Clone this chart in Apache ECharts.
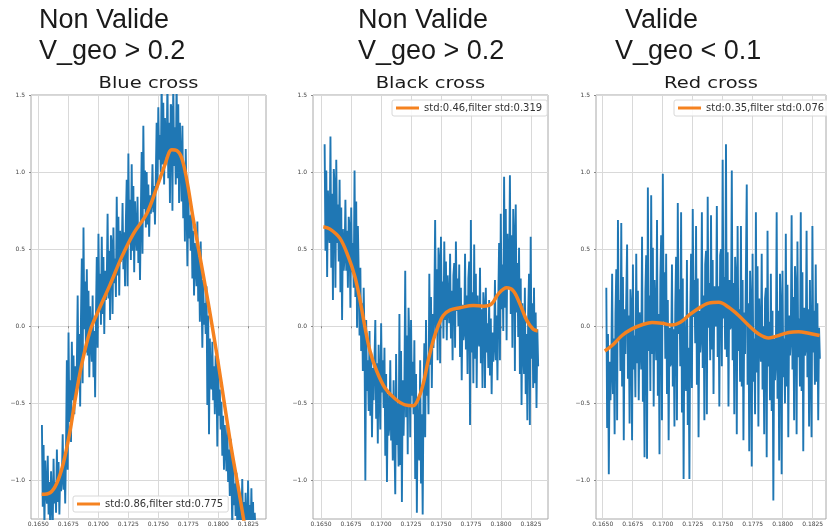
<!DOCTYPE html>
<html><head><meta charset="utf-8">
<script src="https://cdn.jsdelivr.net/npm/echarts@6/dist/echarts.min.js"></script>
<style>html,body{margin:0;padding:0;background:#fff}#c{width:827px;height:530px}</style>
</head><body><div id="c"></div>
<script>
// ---------- data ----------
const sampleStart = 0.16530;
const sampleEnd = 0.18310;

const blueCross = [
-0.64,-1.17,-0.77,-1.30,-0.87,-1.07, -1.15,-0.84,-1.22,-1.01,-1.32,-0.94, -0.95,-1.30,-0.86,-1.15,-1.01,-1.21,
-0.80,-1.14,-0.88,-1.22,-0.95,-1.07, -0.99,-0.70,-1.06,-0.86,-1.15,-0.79, -0.22,-0.93,-0.04,-0.62,-0.35,-0.75,
-0.10,-0.48,-0.19,-0.57,-0.26,-0.41, -0.27,0.20,-0.38,-0.05,-0.52,0.06, 0.44,-0.37,0.64,-0.02,0.29,-0.17,
0.37,-0.19,0.23,-0.33,0.13,-0.09, -0.23,0.20,-0.33,-0.03,-0.46,0.07, 0.45,-0.14,0.60,0.12,0.34,0.01,
0.58,0.08,0.45,-0.05,0.36,0.17, 0.28,0.73,0.18,0.49,0.04,0.59, 0.53,0.08,0.64,0.28,0.44,0.19,
0.84,0.33,0.71,0.20,0.62,0.42, 0.45,0.80,0.37,0.61,0.26,0.69, 0.95,0.26,1.12,0.56,0.82,0.43,
1.05,0.49,0.91,0.35,0.81,0.60, 0.49,0.84,0.41,0.65,0.30,0.73, 1.13,0.47,1.30,0.76,1.01,0.64,
1.00,0.66,0.92,0.58,0.85,0.73, 0.80,1.05,0.74,0.91,0.66,0.97, 1.32,0.90,1.42,1.08,1.24,1.00,
1.58,1.05,1.45,0.92,1.35,1.15, 1.08,1.60,0.96,1.32,0.80,1.44, 1.41,0.75,1.58,1.04,1.29,0.92,
1.60,0.96,1.44,0.80,1.32,1.08, 0.81,1.30,0.70,1.04,0.55,1.15, 0.80,0.39,0.90,0.57,0.72,0.49,
0.73,0.31,0.62,0.20,0.54,0.39, 0.26,0.68,0.16,0.45,0.03,0.55, 0.21,-0.14,0.30,0.01,0.15,-0.05,
0.26,-0.51,0.07,-0.70,-0.08,-0.36, -0.41,-0.10,-0.48,-0.26,-0.57,-0.19, -0.32,-0.78,-0.21,-0.58,-0.41,-0.67,
-0.49,-0.84,-0.58,-0.93,-0.64,-0.78, -0.94,-0.64,-1.01,-0.80,-1.10,-0.73, -0.95,-1.32,-0.86,-1.16,-1.02,-1.23,
-0.95,-1.29,-1.04,-1.38,-1.10,-1.23, -1.27,-0.99,-1.33,-1.14,-1.42,-1.08, -1.09,-1.45,-1.00,-1.29,-1.16,-1.36,
-1.05,-1.41,-1.14,-1.50,-1.21,-1.34
];

const blackCross = [
1.18,0.49,1.01,0.32,0.88,0.62, 0.54,1.23,0.38,0.86,0.17,1.02, 0.91,0.25,1.08,0.54,0.79,0.42,
0.95,0.22,0.77,0.04,0.63,0.36, 0.45,0.82,0.36,0.62,0.25,0.71, 0.64,0.12,0.77,0.35,0.54,0.25,
1.01,0.19,0.81,-0.01,0.65,0.35, -0.06,0.38,-0.16,0.15,-0.29,0.25, -0.10,-1.00,0.04,-0.42,-0.22,-0.55,
-0.03,-0.58,-0.17,-0.72,-0.27,-0.48, -0.48,0.04,-0.60,-0.24,-0.76,-0.12, -0.12,-0.67,0.02,-0.43,-0.22,-0.53,
-0.14,-0.84,-0.31,-1.01,-0.44,-0.71, -0.64,-0.22,-0.74,-0.45,-0.87,-0.35, -0.36,-1.09,-0.18,-0.77,-0.50,-0.91,
0.08,-0.90,-0.16,-1.14,-0.35,-0.71, -0.41,0.36,-0.59,-0.06,-0.83,0.12, -0.11,-0.72,0.04,-0.45,-0.23,-0.57,
-0.09,-0.99,-0.31,-1.21,-0.48,-0.82, -0.87,-0.22,-1.02,-0.57,-1.22,-0.42, -0.11,-0.72,0.04,-0.45,-0.23,-0.57,
0.34,-0.25,0.19,-0.40,0.08,-0.14, 0.10,0.69,-0.04,0.37,-0.22,0.51, 0.42,-0.24,0.58,0.05,0.29,-0.08,
0.55,0.04,0.42,-0.09,0.33,0.13, 0.02,0.47,-0.08,0.23,-0.22,0.33, 0.41,-0.14,0.55,0.10,0.31,0.00,
0.40,-0.20,0.25,-0.35,0.14,-0.09, -0.04,0.47,-0.15,0.20,-0.31,0.31, 0.42,-0.64,0.69,-0.17,0.22,-0.37,
0.53,-0.21,0.34,-0.40,0.20,-0.07, -0.13,0.38,-0.24,0.11,-0.40,0.22, 0.12,-0.40,0.25,-0.17,0.02,-0.27,
0.17,-0.32,0.05,-0.44,-0.04,-0.23, -0.12,0.30,-0.22,0.07,-0.35,0.17, 0.54,-0.22,0.73,0.11,0.40,-0.03,
0.97,0.12,0.76,-0.09,0.60,0.28, 0.25,0.98,0.08,0.59,-0.14,0.76, 0.57,-0.29,0.79,0.09,0.41,-0.07,
0.51,-0.31,0.31,-0.51,0.15,-0.15, -0.31,0.25,-0.44,-0.05,-0.61,0.08, 0.34,-0.64,0.58,-0.21,0.15,-0.40,
0.25,-0.37,0.09,-0.53,-0.02,-0.26
];

const redCross = [
0.25,-0.66,-0.05,-0.96,-0.23,-0.48, -0.28,0.34,-0.44,-0.08,-0.70,0.08, 0.37,-0.61,0.69,-0.09,0.17,-0.29,
0.67,-0.39,0.32,-0.74,0.11,-0.18, -0.17,0.53,-0.34,0.07,-0.63,0.24, 0.12,-0.74,0.40,-0.28,-0.06,-0.46,
0.47,-0.24,0.23,-0.48,0.09,-0.10, -0.28,0.58,-0.49,0.01,-0.85,0.22, 0.46,-0.86,0.90,-0.16,0.20,-0.42,
0.85,-0.18,0.51,-0.52,0.30,0.03, -0.22,0.69,-0.45,0.08,-0.83,0.31, 0.59,-0.61,0.99,0.03,0.35,-0.21,
0.47,-0.44,0.17,-0.74,-0.01,-0.26, -0.23,0.40,-0.39,-0.02,-0.65,0.14, 0.45,-0.61,0.80,-0.05,0.24,-0.26,
0.74,-0.56,0.31,-0.99,0.05,-0.30, -0.42,0.43,-0.64,-0.14,-0.99,0.08, 0.47,-0.40,0.76,0.06,0.30,-0.11,
0.65,-0.38,0.31,-0.72,0.10,-0.17, -0.07,0.74,-0.27,0.20,-0.61,0.40, 0.49,-0.57,0.84,-0.01,0.28,-0.22,
0.72,-0.15,0.43,-0.44,0.26,0.02, 0.00,0.78,-0.20,0.26,-0.52,0.46, 0.50,-0.26,1.08,0.05,0.32,-0.15,
1.18,-0.20,0.48,-0.52,0.30,-0.02, 0.00,1.01,-0.22,0.28,-0.57,0.45, 0.31,-0.70,0.65,-0.16,0.11,-0.36,
0.65,-0.39,0.30,-0.74,0.09,-0.18, -0.18,0.92,-0.38,0.15,-0.81,0.36, 0.13,-0.91,0.47,-0.36,-0.08,-0.57,
0.74,-0.30,0.39,-0.65,0.18,-0.09, -0.23,0.47,-0.41,0.00,-0.70,0.18, 0.25,-0.85,0.62,-0.26,0.03,-0.48,
0.34,-0.55,0.10,-1.13,-0.08,-0.35, -0.23,0.74,-0.47,0.10,-0.87,0.34, 0.10,-0.96,0.36,-0.33,-0.08,-0.50,
0.60,-0.39,0.27,-0.72,0.07,-0.19, -0.08,0.72,-0.28,0.19,-0.61,0.39, 0.24,-0.70,0.55,-0.20,0.05,-0.39,
0.74,-0.42,0.35,-0.81,0.12,-0.19, -0.14,0.62,-0.33,0.11,-0.65,0.30, 0.31,-0.72,0.65,-0.17,0.10,-0.38,
0.40,-0.36,0.15,-0.61,-0.01,-0.21
];

const blueFiltT = [0.16528,0.16598,0.16653,0.16708,0.16764,0.16806,0.16862,0.16931,0.17000,0.17098,0.17195,0.17292,0.17403,0.17487,0.17556,0.17612,0.17653,0.17695,0.17737,0.17792,0.17847,0.17917,0.17987,0.18056,0.18112,0.18167,0.18208,0.18256,0.18306];
const blueFiltV = [-1.09,-1.08,-1.02,-0.89,-0.68,-0.48,-0.245,-0.03,0.10,0.27,0.45,0.60,0.73,0.90,1.05,1.145,1.14,1.09,0.95,0.69,0.45,0.145,-0.18,-0.53,-0.81,-1.05,-1.24,-1.45,-1.65];

const blackFiltT = [0.16519,0.16575,0.16658,0.16728,0.16783,0.16825,0.16867,0.16908,0.16964,0.17033,0.17117,0.17200,0.17269,0.17311,0.17353,0.17394,0.17436,0.17478,0.17519,0.17575,0.17658,0.17769,0.17853,0.17922,0.17978,0.18047,0.18103,0.18158,0.18214,0.18269,0.18306];
const blackFiltV = [0.645,0.63,0.57,0.45,0.32,0.17,-0.01,-0.16,-0.29,-0.40,-0.47,-0.51,-0.515,-0.47,-0.37,-0.22,-0.09,0.005,0.07,0.105,0.12,0.135,0.13,0.145,0.21,0.25,0.23,0.145,0.04,-0.02,-0.03];

const redFiltT = [0.16517,0.16578,0.16661,0.16744,0.16828,0.16911,0.16994,0.17078,0.17147,0.17217,0.17300,0.17383,0.17467,0.17550,0.17633,0.17717,0.17800,0.17883,0.17967,0.18050,0.18133,0.18217,0.18308];
const redFiltV = [-0.16,-0.125,-0.06,-0.017,0.01,0.025,0.02,0.008,0.026,0.07,0.117,0.15,0.155,0.123,0.07,0.005,-0.05,-0.076,-0.06,-0.04,-0.035,-0.045,-0.06];

const xTickValues = [0.1650, 0.1675, 0.1700, 0.1725, 0.1750, 0.1775, 0.1800, 0.1825];
const yTickValues = [-1.0, -0.5, 0.0, 0.5, 1.0, 1.5];

const panelTitles = ['Blue cross', 'Black cross', 'Red cross'];
const headLine1 = ['Non Valide', 'Non Valide', 'Valide'];
const headLine2 = ['V_geo > 0.2', 'V_geo > 0.2', 'V_geo < 0.1'];
const legendLabels = ['std:0.86,filter std:0.775', 'std:0.46,filter std:0.319', 'std:0.35,filter std:0.076'];

// ---------- layout / style ----------
const rawSeries = [blueCross, blackCross, redCross];
const filtT = [blueFiltT, blackFiltT, redFiltT];
const filtV = [blueFiltV, blackFiltV, redFiltV];
const grids = [
  {left: 31, top: 95, width: 235, height: 424},
  {left: 313, top: 95, width: 235, height: 424},
  {left: 596, top: 95, width: 230, height: 424}
];
const xExtents = [[0.16439, 0.18397], [0.16433, 0.18392], [0.16444, 0.18361]];
const head1X = [39, 358, 625];
const head2X = [39, 358, 615];
const legendPos = [{left: 73, top: 496}, {left: 392, top: 100}, {left: 674, top: 100}];

const BLUE = '#1f77b4', ORANGE = '#f58220';
const minus = s => s.replace('-', '\u2212');

function times(n) {
  const out = [];
  for (let i = 0; i < n; i++) out.push(sampleStart + (sampleEnd - sampleStart) * i / (n - 1));
  return out;
}

const option = {
  animation: false,
  grid: grids.map(g => Object.assign({show: true, borderColor: '#a8a8a8', borderWidth: 1, backgroundColor: '#fff'}, g)),
  xAxis: grids.map((g, i) => ({
    type: 'value', gridIndex: i, min: xExtents[i][0], max: xExtents[i][1],
    axisLine: {show: false},
    axisTick: {show: true, length: 2, lineStyle: {color: '#888'}, customValues: xTickValues},
    axisLabel: {customValues: xTickValues, fontSize: 6, color: '#444', margin: 2,
      fontFamily: 'DejaVu Sans', formatter: v => v.toFixed(4)},
    splitLine: {show: true, lineStyle: {color: '#d9d9d9', width: 1}}
  })),
  yAxis: grids.map((g, i) => ({
    type: 'value', gridIndex: i, min: -1.25, max: 1.5,
    axisLine: {show: false},
    axisTick: {show: true, length: 2, lineStyle: {color: '#888'}, customValues: yTickValues},
    axisLabel: {customValues: yTickValues, fontSize: 6, color: '#444', margin: 6,
      fontFamily: 'DejaVu Sans', formatter: v => minus(v.toFixed(1))},
    splitLine: {show: true, lineStyle: {color: '#d9d9d9', width: 1}}
  })),
  legend: legendLabels.map((name, i) => Object.assign({
    data: [name], orient: 'horizontal', icon: 'rect', itemWidth: 23, itemHeight: 3,
    padding: [3, 5, 3, 4], backgroundColor: 'rgba(255,255,255,0.85)',
    borderColor: '#d8d8d8', borderWidth: 1, borderRadius: 2,
    textStyle: {fontSize: 10, color: '#333', fontFamily: 'DejaVu Sans'},
    selectedMode: false
  }, legendPos[i])),
  series: [],
  graphic: []
};

rawSeries.forEach((vals, i) => {
  const t = times(vals.length);
  option.series.push({
    type: 'line', name: panelTitles[i] + ' raw', xAxisIndex: i, yAxisIndex: i,
    data: vals.map((v, k) => [t[k], v]), showSymbol: false, symbol: 'none',
    lineStyle: {color: BLUE, width: 1.9}, itemStyle: {color: BLUE}, z: 2, silent: true
  });
  option.series.push({
    type: 'line', name: legendLabels[i], xAxisIndex: i, yAxisIndex: i,
    data: filtT[i].map((tt, k) => [tt, filtV[i][k]]), showSymbol: false, symbol: 'none',
    smooth: 0.35, lineStyle: {color: ORANGE, width: 3.5}, itemStyle: {color: ORANGE}, z: 3, silent: true
  });
  option.graphic.push({
    type: 'text', x: head1X[i], y: 21,
    style: {text: headLine1[i], fontSize: 27, fontFamily: 'Liberation Sans', fill: '#1a1a1a', verticalAlign: 'middle'}
  });
  option.graphic.push({
    type: 'text', x: head2X[i], y: 52,
    style: {text: headLine2[i], fontSize: 27, fontFamily: 'Liberation Sans', fill: '#1a1a1a', verticalAlign: 'middle'}
  });
  option.graphic.push({
    type: 'text', x: grids[i].left + grids[i].width / 2, y: 84, scaleX: 1.3,
    style: {text: panelTitles[i], fontSize: 15, fontFamily: 'DejaVu Sans', fill: '#1a1a1a', align: 'center', verticalAlign: 'middle'}
  });
});

const chart = echarts.init(document.getElementById('c'), null, {renderer: 'canvas'});
chart.setOption(option);
</script>
</body></html>
